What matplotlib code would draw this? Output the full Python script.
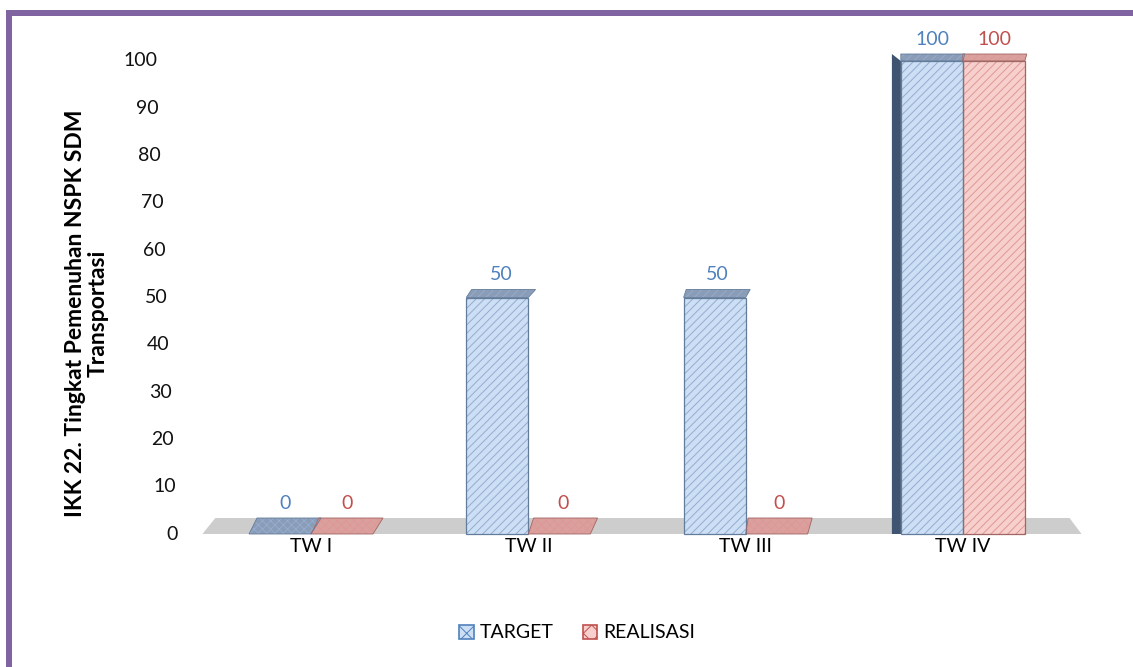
#!/usr/bin/env python3
"""IKK 22 bar chart: target vs realisasi per triwulan, faux-3D look."""
import matplotlib
matplotlib.use("Agg")
import matplotlib.pyplot as plt
from matplotlib.patches import Polygon, Patch, Rectangle

categories = ["TW I", "TW II", "TW III", "TW IV"]
target = [0, 50, 50, 100]
realisasi = [0, 0, 0, 100]
yticks = [0, 10, 20, 30, 40, 50, 60, 70, 80, 90, 100]
ylabel = "IKK 22. Tingkat Pemenuhan NSPK SDM\nTransportasi"
legend_labels = ["TARGET", "REALISASI"]

W, H = 1133, 667
PX_PER_CAT = 217.3      # horizontal pixels per category step
PX_PER_UNIT = 4.73      # vertical pixels per value unit
X0_PX, Y0_PX = 311, 534  # pixel of category 0 / value 0

plt.rcParams["font.family"] = ["Lato", "DejaVu Sans"]
plt.rcParams["hatch.linewidth"] = 0.7

BLUE = "#4f81bd"
RED = "#c0504d"
styles = {
    "target": dict(face="#cddff4", hatch="#93acd0", edge="#637c9a", top="#8a9cb6", side="#3e5470"),
    "realisasi": dict(face="#f7cfcc", hatch="#df9895", edge="#a06664", top="#d9a09d", side="#8a4a48"),
}


def px_x(px):
    return (px - X0_PX) / PX_PER_CAT


def px_y(px):
    return (Y0_PX - px) / PX_PER_UNIT


def dxu(px):
    return px / PX_PER_CAT


def dyu(px):
    return px / PX_PER_UNIT


fig = plt.figure(figsize=(W / 100, H / 100), dpi=100)
left_px, right_px, top_px, bot_px = 100, 1110, 25, 537
ax = fig.add_axes([left_px / W, 1 - bot_px / H, (right_px - left_px) / W, (bot_px - top_px) / H])
ax.set_xlim(px_x(left_px), px_x(right_px))
ax.set_ylim(px_y(bot_px), px_y(top_px))
for s in ax.spines.values():
    s.set_visible(False)
ax.set_yticks([])
ax.set_xticks(range(len(categories)))
ax.set_xticklabels(categories, fontsize=14)
ax.tick_params(axis="x", length=0, pad=1)

n = len(categories)

# floor
floor_top = dyu(16)
ax.add_patch(Polygon([(-0.5, 0), (n - 0.5 + dxu(10), 0),
                      (n - 0.5 - dxu(2), floor_top), (-0.5 + dxu(13), floor_top)],
                     closed=True, facecolor="#c8c8c8", edgecolor="none", alpha=0.9, zorder=1))

bw = dxu(62)


def draw_bar(i, x0, v, st, hatch, first):
    depth_y = dyu(max(7, 16 - 0.16 * v))
    depth_x = dxu(10 - 2.7 * i)
    if v > 0:
        side = max(0.0, (i - 2) * 9) if first else 0.0
        if side > 0:
            ax.add_patch(Polygon([(x0 - dxu(side), 0), (x0, 0), (x0, v), (x0 - dxu(side), v + depth_y)],
                                 closed=True, facecolor=st["side"], edgecolor="none", zorder=3))
        ax.add_patch(Rectangle((x0, 0), bw, v, facecolor=st["face"], edgecolor=st["hatch"],
                               hatch=hatch, lw=0, zorder=3))
        ax.add_patch(Rectangle((x0, 0), bw, v, fill=False, edgecolor=st["edge"], lw=0.9, zorder=4))
    top = [(x0, v), (x0 + bw, v), (x0 + bw + depth_x, v + depth_y), (x0 + depth_x - dxu(2), v + depth_y)]
    ax.add_patch(Polygon(top, closed=True, facecolor=st["top"], edgecolor=st["hatch"],
                         hatch="xxxx" if v == 0 else hatch, lw=0, zorder=3))
    ax.add_patch(Polygon(top, closed=True, fill=False, edgecolor=st["edge"], lw=0.6, zorder=4))
    return x0 + bw / 2 + depth_x / 2, v + depth_y


for i in range(n):
    cx, cy = draw_bar(i, i - bw, target[i], styles["target"], "////", True)
    ax.text(cx, cy + dyu(6), f"{target[i]}", color=BLUE, fontsize=14, ha="center", va="bottom")
    cx, cy = draw_bar(i, i, realisasi[i], styles["realisasi"], "////", False)
    ax.text(cx, cy + dyu(6), f"{realisasi[i]}", color=RED, fontsize=14, ha="center", va="bottom")

# slanted value axis labels
for v in yticks:
    ax.text(px_x(178 - 0.21 * v), v, f"{v}", fontsize=14, ha="right", va="center", color="#111111")

fig.text(87 / W, 1 - 313 / H, ylabel, rotation=90, fontsize=16.5, fontweight="bold",
         ha="center", va="center", multialignment="center", linespacing=1.12)

handles = [Patch(facecolor="#cddff4", edgecolor=BLUE, hatch="xx", lw=1.2),
           Patch(facecolor="#f7cfcc", edgecolor=RED, hatch="xx", lw=1.2)]
fig.legend(handles, legend_labels, loc="center", bbox_to_anchor=(577 / W, 1 - 633 / H),
           ncol=2, frameon=False, fontsize=14, handlelength=0.75, handleheight=0.75,
           handletextpad=0.3, columnspacing=1.5)

# purple frame
fig.patches.append(Rectangle((9 / W, -0.05), (1134.5 - 9) / W, 1.05 - 13 / H,
                             transform=fig.transFigure, fill=False, edgecolor="#8064a2",
                             lw=6 * 72 / 100, zorder=10))

fig.savefig("out.png", dpi=100)
